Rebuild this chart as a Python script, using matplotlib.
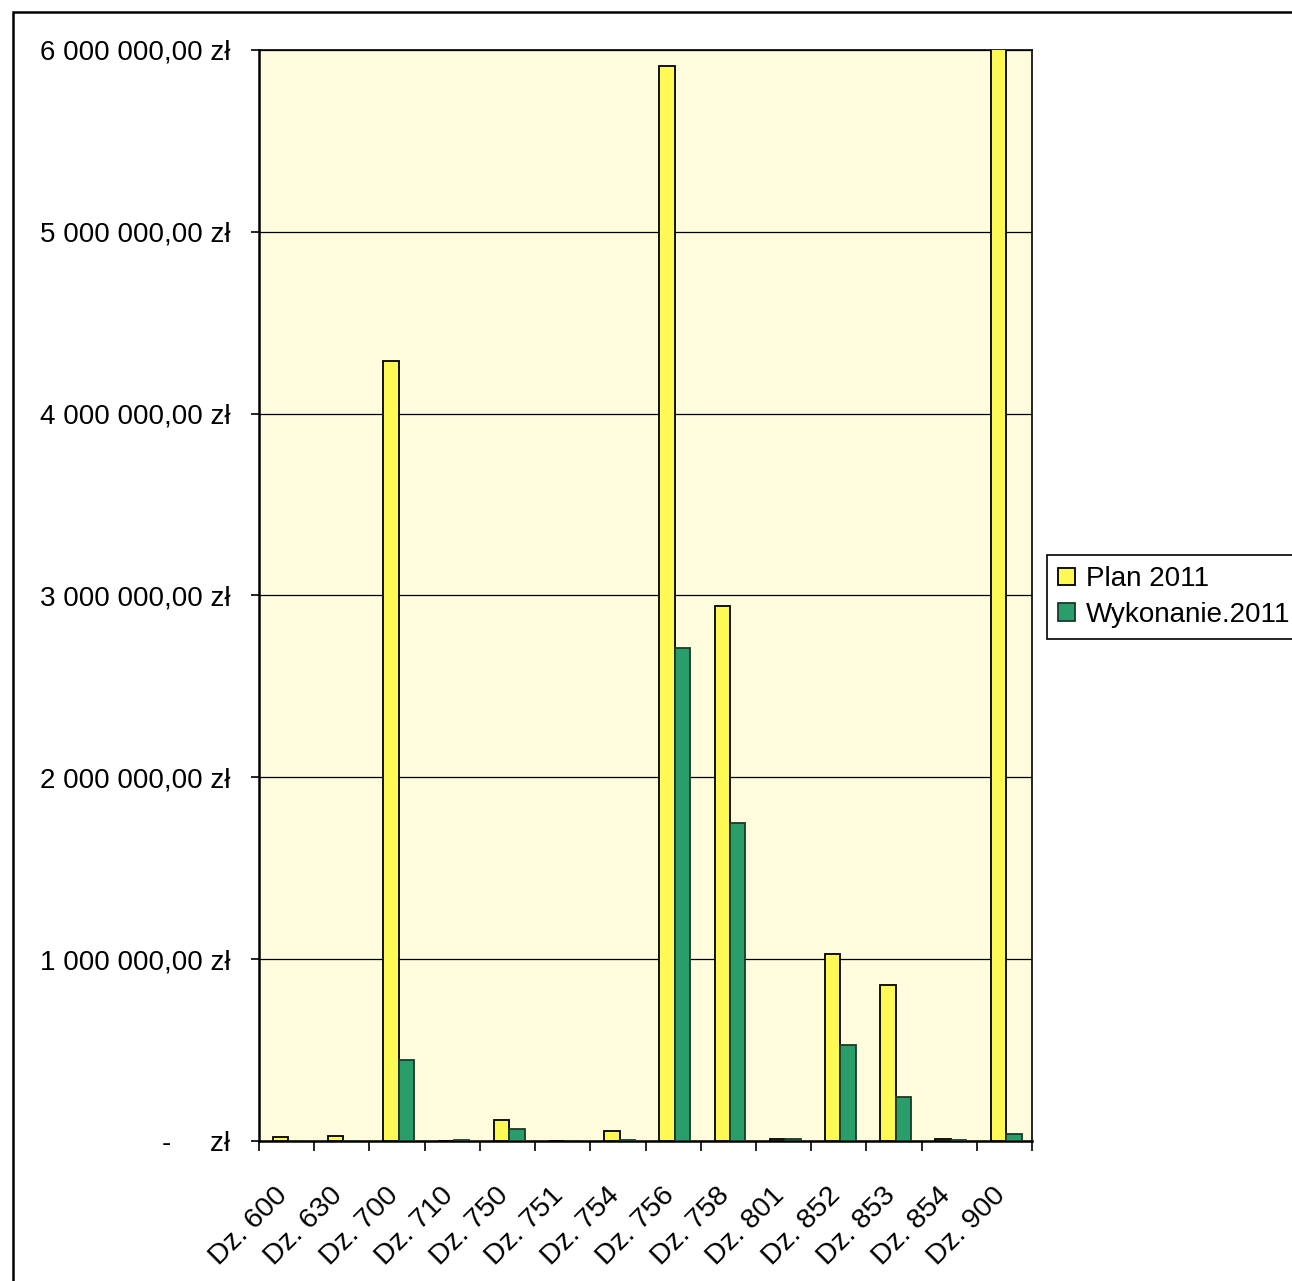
import numpy as np
import matplotlib.pyplot as plt
import matplotlib.transforms as mtransforms
from matplotlib.patches import Rectangle

plt.rcParams['font.family'] = ['Liberation Sans', 'DejaVu Sans']

# dzialy budzetu i wartosci (zl)
dzialy = ['Dz. 600', 'Dz. 630', 'Dz. 700', 'Dz. 710', 'Dz. 750', 'Dz. 751', 'Dz. 754',
          'Dz. 756', 'Dz. 758', 'Dz. 801', 'Dz. 852', 'Dz. 853', 'Dz. 854', 'Dz. 900']
plan_2011 = [20000, 28000, 4290000, 0, 115000, 0, 55000,
             5910000, 2940000, 12000, 1030000, 860000, 10000, 6400000]
wykonanie_2011 = [2000, 2000, 445000, 3000, 66000, 0, 5000,
                  2710000, 1750000, 10000, 530000, 240000, 8000, 40000]
y_ticks = [0, 1000000, 2000000, 3000000, 4000000, 5000000, 6000000]
y_labels = ['-     zł', '1 000 000,00 zł', '2 000 000,00 zł', '3 000 000,00 zł',
            '4 000 000,00 zł', '5 000 000,00 zł', '6 000 000,00 zł']

FS = 20
W, H = 1292, 1281
fig = plt.figure(figsize=(W / 100, H / 100), dpi=100)
# ramka calego wykresu (wychodzi poza prawa i dolna krawedz skanu)
fig.patches.append(Rectangle((13 / W, -0.02), 1.2, 1.02 - 12 / H, transform=fig.transFigure,
                             fill=False, edgecolor='black', linewidth=1.8))

left, right, top, bottom = 259, 1032, 50, 1141
ax = fig.add_axes([left / W, 1 - bottom / H, (right - left) / W, (bottom - top) / H])
ax.set_facecolor('#FEFCDC')

x = np.arange(len(dzialy))
w = 0.28
ax.bar(x - w / 2 + 0.03, plan_2011, w, color='#FFF955', edgecolor='black', linewidth=1.3,
       label='Plan 2011', zorder=3)
ax.bar(x + w / 2 + 0.03, wykonanie_2011, w, color='#2A9E6A', edgecolor='#1a3a2a', linewidth=1.3,
       label='Wykonanie.2011', zorder=3)

ax.set_xlim(-0.5, len(dzialy) - 0.5)
ax.set_ylim(0, 6000000)
ax.set_yticks(y_ticks)
ax.set_yticklabels(y_labels, fontsize=FS)
ax.yaxis.grid(True, color='black', linewidth=0.9, zorder=1)
ax.tick_params(axis='y', length=5.8, width=1.2, pad=15)

# znaczniki osi X na granicach kategorii, etykiety pod srodkami
ax.set_xticks(np.arange(-0.5, len(dzialy)), minor=False)
ax.set_xticklabels([])
ax.set_xticks(x, minor=True)
ax.set_xticklabels(dzialy, minor=True, rotation=45, ha='right', rotation_mode='anchor',
                   fontsize=20.5)
ax.tick_params(axis='x', which='major', length=7.2, width=1.2)
ax.tick_params(axis='x', which='minor', length=0, pad=30)
shift = mtransforms.ScaledTranslation(-0.12, 0, fig.dpi_scale_trans)
for lbl in ax.get_xticklabels(minor=True):
    lbl.set_transform(lbl.get_transform() + shift)

for s in ax.spines.values():
    s.set_color('black')
    s.set_linewidth(1.2)
ax.spines['left'].set_linewidth(1.8)
ax.spines['bottom'].set_linewidth(1.8)

leg = fig.legend(loc='upper left', bbox_to_anchor=(1047 / W, 1 - 555 / H), fontsize=FS,
                 frameon=True, fancybox=False, framealpha=1, edgecolor='black',
                 handlelength=0.6, handleheight=0.6, handletextpad=0.4,
                 labelspacing=0.35, borderpad=0.4, borderaxespad=0)
leg.get_frame().set_linewidth(1.2)

fig.savefig('out.png', dpi=100, facecolor='white')
